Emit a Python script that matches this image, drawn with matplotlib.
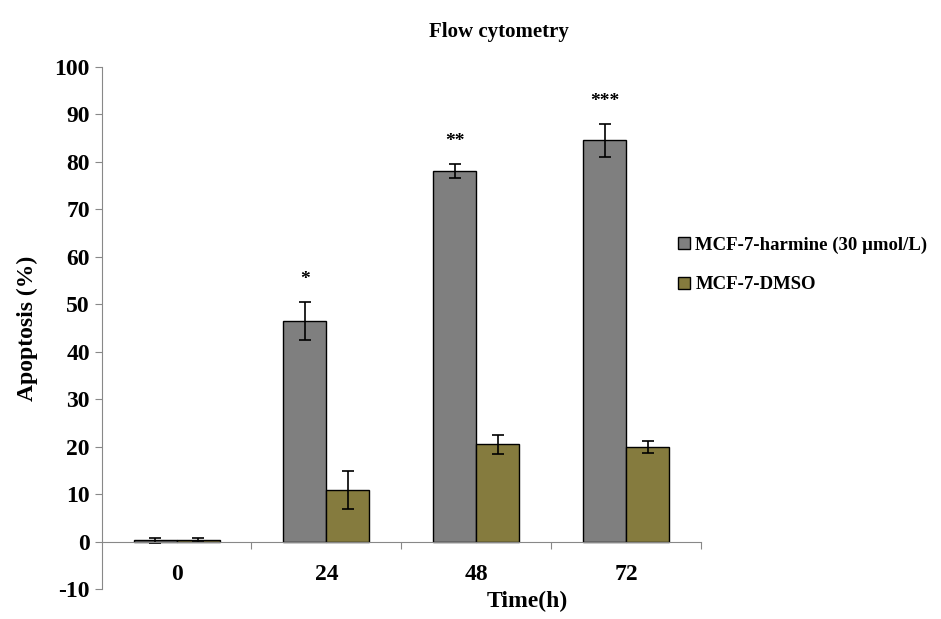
import matplotlib.pyplot as plt
import numpy as np

times = ['0', '24', '48', '72']
harmine = [0.3, 46.5, 78.0, 84.5]
harmine_err = [0.6, 4.0, 1.5, 3.5]
dmso = [0.3, 11.0, 20.5, 20.0]
dmso_err = [0.4, 4.0, 2.0, 1.2]
stars = ['', '*', '**', '***']

plt.rcParams['font.family'] = 'Liberation Serif'
plt.rcParams['font.weight'] = 'bold'
plt.rcParams['axes.unicode_minus'] = False

fig = plt.figure(figsize=(9.41, 6.19), dpi=100)
ax = fig.add_axes([0.108, 0.048, 0.637, 0.844])

x = np.arange(len(times))
w = 0.287
ax.bar(x - w/2, harmine, w, color='#7f7f7f', edgecolor='black', linewidth=1,
       label='MCF-7-harmine (30 µmol/L)',
       yerr=harmine_err, capsize=4, error_kw=dict(elinewidth=1.2, capthick=1.2))
ax.bar(x + w/2, dmso, w, color='#857b3e', edgecolor='black', linewidth=1,
       label='MCF-7-DMSO',
       yerr=dmso_err, capsize=4, error_kw=dict(elinewidth=1.2, capthick=1.2))
for i, s in enumerate(stars):
    if s:
        ax.text(x[i] - w/2, harmine[i] + harmine_err[i] + 3, s, ha='center',
                va='bottom', fontsize=14)

ax.set_xlim(-0.5, 3.5)
ax.set_ylim(-10, 100)
ax.set_yticks(range(-10, 101, 10))
ax.spines['top'].set_visible(False)
ax.spines['right'].set_visible(False)
ax.spines['bottom'].set_position(('data', 0))
ax.spines['bottom'].set_color('#888888')
ax.spines['left'].set_color('#888888')
ax.set_xticks([0.5, 1.5, 2.5, 3.5])
ax.set_xticklabels([])
ax.set_xticks(x, minor=True)
ax.set_xticklabels(times, minor=True)
ax.tick_params(axis='x', which='major', direction='out', length=5, color='#888888')
ax.tick_params(axis='x', which='minor', length=0, pad=16, labelsize=17)
for lab in ax.get_xticklabels(minor=True):
    lab.set_fontweight('bold')
ax.tick_params(axis='y', direction='out', length=5, color='#888888', labelsize=17)
ax.set_ylabel('Apoptosis (%)', fontsize=17, fontweight='bold', labelpad=12)
fig.text(0.56, 0.02, 'Time(h)', ha='center', fontsize=17, fontweight='bold')
fig.text(0.53, 0.94, 'Flow cytometry', ha='center', fontsize=15, fontweight='bold')

fig.legend(loc='upper left', bbox_to_anchor=(0.703, 0.645), frameon=False,
           handlelength=0.6, handleheight=0.6, handletextpad=0.3,
           labelspacing=1.2, prop={'weight': 'bold', 'size': 13.5})

fig.savefig('out.png')
